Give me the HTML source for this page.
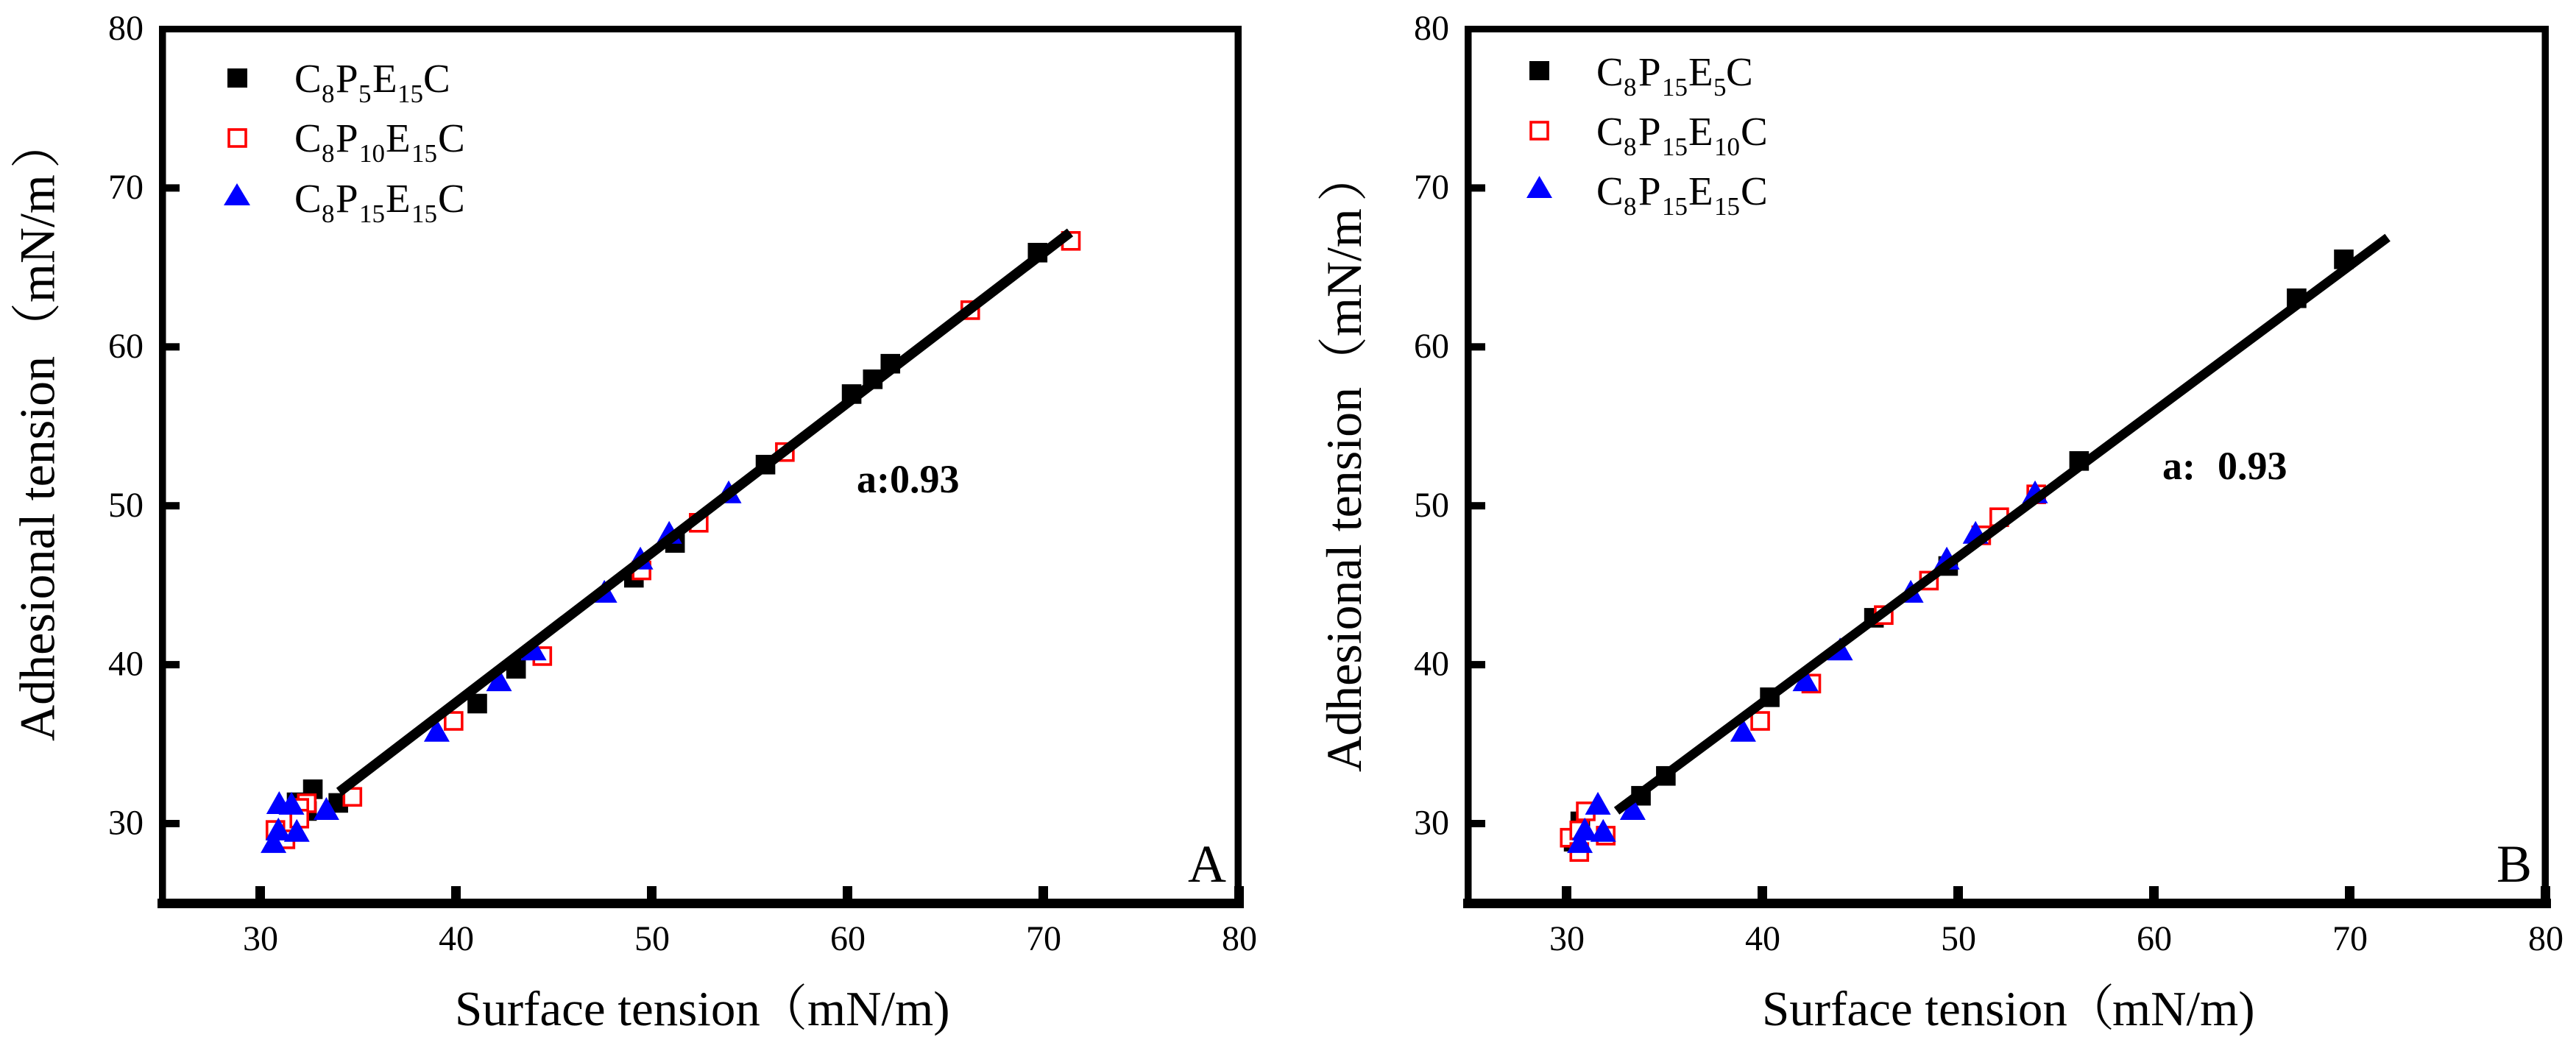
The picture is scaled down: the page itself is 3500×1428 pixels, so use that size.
<!DOCTYPE html>
<html lang="en">
<head>
<meta charset="utf-8">
<title>Adhesional tension vs surface tension</title>
<style>
html,body{margin:0;padding:0;background:#fff;width:3500px;height:1428px;overflow:hidden}
svg{display:block}
text{font-family:"Liberation Serif","Noto Serif CJK SC",serif;fill:#000}
.tick{font-size:48px}
.title{font-size:67px}
.ytitle{font-size:68px}
.leg{font-size:55px}
.sub{font-size:35px}
</style>
</head>
<body>
<svg id="chart" width="3500" height="1428" viewBox="0 0 3500 1428" xmlns="http://www.w3.org/2000/svg">
  <rect width="3500" height="1428" fill="#fff"/>
  <g id="panelA"></g>
  <g id="panelB"></g>

  <text class="title" x="618" y="1393">Surface tension</text>
  <text class="title" x="1030" y="1393">（</text>
  <text class="title" x="1097" y="1393">mN/m)</text>

  <text class="title" x="2394" y="1393">Surface tension</text>
  <text class="title" x="2806" y="1393">（</text>
  <text class="title" x="2870" y="1393">mN/m)</text>

  <text class="ytitle" transform="translate(73.5 1007) rotate(-90)">Adhesional tension</text>
  <text class="ytitle" transform="translate(73.5 411) rotate(-90)">mN/m</text>
  <text class="ytitle" transform="translate(73.5 479) rotate(-90)">（</text>
  <text class="ytitle" transform="translate(73.5 229) rotate(-90)">）</text>

  <text class="ytitle" transform="translate(1849 1049) rotate(-90)">Adhesional tension</text>
  <text class="ytitle" transform="translate(1849 457) rotate(-90)">mN/m</text>
  <text class="ytitle" transform="translate(1849 525) rotate(-90)">（</text>
  <text class="ytitle" transform="translate(1849 274) rotate(-90)">）</text>

  <text x="1164" y="669" font-size="54" font-weight="bold">a:0.93</text>
  <text x="2938" y="651" font-size="54" font-weight="bold">a:<tspan x="3013">0.93</tspan></text>
  <text x="1614" y="1198" font-size="72">A</text>
  <text x="3392" y="1198" font-size="72">B</text>

  <g>
    <rect x="309" y="93" width="27" height="26" fill="#000"/>
    <text class="leg" x="400" y="125">C<tspan class="sub" x="437" y="139">8</tspan><tspan x="456" y="125">P</tspan><tspan class="sub" x="487" y="139">5</tspan><tspan x="506" y="125">E</tspan><tspan class="sub" x="540" y="139">15</tspan><tspan x="575" y="125">C</tspan></text>
    <rect x="311" y="176" width="23" height="23" fill="#fff" stroke="#f00" stroke-width="3.6"/>
    <text class="leg" x="400" y="206">C<tspan class="sub" x="437" y="220">8</tspan><tspan x="456" y="206">P</tspan><tspan class="sub" x="488" y="220">10</tspan><tspan x="524" y="206">E</tspan><tspan class="sub" x="559" y="220">15</tspan><tspan x="595" y="206">C</tspan></text>
    <polygon points="322,249 340,279 304,279" fill="#00f"/>
    <text class="leg" x="400" y="288">C<tspan class="sub" x="437" y="302">8</tspan><tspan x="456" y="288">P</tspan><tspan class="sub" x="488" y="302">15</tspan><tspan x="524" y="288">E</tspan><tspan class="sub" x="559" y="302">15</tspan><tspan x="595" y="288">C</tspan></text>
  </g>

  <g>
    <rect x="2078" y="83" width="27" height="26" fill="#000"/>
    <text class="leg" x="2169" y="116">C<tspan class="sub" x="2206" y="130">8</tspan><tspan x="2226" y="116">P</tspan><tspan class="sub" x="2258" y="130">15</tspan><tspan x="2294" y="116">E</tspan><tspan class="sub" x="2328" y="130">5</tspan><tspan x="2345" y="116">C</tspan></text>
    <rect x="2080" y="166" width="23" height="23" fill="#fff" stroke="#f00" stroke-width="3.6"/>
    <text class="leg" x="2169" y="197">C<tspan class="sub" x="2206" y="211">8</tspan><tspan x="2226" y="197">P</tspan><tspan class="sub" x="2258" y="211">15</tspan><tspan x="2294" y="197">E</tspan><tspan class="sub" x="2329" y="211">10</tspan><tspan x="2365" y="197">C</tspan></text>
    <polygon points="2091.5,239 2109,269 2074,269" fill="#00f"/>
    <text class="leg" x="2169" y="278">C<tspan class="sub" x="2206" y="292">8</tspan><tspan x="2226" y="278">P</tspan><tspan class="sub" x="2258" y="292">15</tspan><tspan x="2294" y="278">E</tspan><tspan class="sub" x="2329" y="292">15</tspan><tspan x="2365" y="278">C</tspan></text>
  </g>
</svg>
<script>
var xTicks = [30, 40, 50, 60, 70, 80];
var yTicks = [30, 40, 50, 60, 70, 80];

var aBlackX = [32.39, 31.86, 32.69, 33.99, 41.09, 43.07, 49.09, 51.19, 55.81, 60.21, 61.29, 62.19, 69.71];
var aBlackY = [30.79, 31.34, 32.16, 31.30, 37.55, 39.74, 45.47, 47.66, 52.59, 57.03, 57.96, 58.94, 65.93];
var aRedX = [32.38, 32.00, 32.00, 30.78, 31.29, 34.71, 39.88, 44.41, 49.48, 52.40, 56.80, 66.27, 71.41];
var aRedY = [31.28, 30.99, 30.31, 29.60, 29.01, 31.68, 36.46, 40.54, 45.93, 48.93, 53.38, 62.31, 66.67];
var aBlueX = [30.97, 31.60, 33.38, 30.93, 31.87, 30.68, 39.02, 42.20, 43.97, 47.58, 49.42, 50.89, 53.93];
var aBlueY = [31.32, 31.28, 30.95, 29.66, 29.57, 28.87, 35.87, 39.05, 40.99, 44.62, 46.71, 48.33, 50.88];
var aLineX = [34.04, 71.37];
var aLineY = [31.99, 67.20];

var bBlackX = [30.70, 30.36, 33.80, 35.07, 40.38, 45.70, 49.49, 56.18, 67.29, 69.70];
var bBlackY = [30.14, 28.86, 31.75, 33.00, 37.95, 42.95, 46.21, 52.82, 63.06, 65.51];
var bRedX = [30.98, 30.16, 30.65, 32.00, 30.65, 39.89, 42.50, 46.20, 48.51, 51.18, 52.10, 53.99];
var bRedY = [30.77, 29.11, 29.57, 29.24, 28.21, 36.46, 38.81, 43.12, 45.29, 48.14, 49.28, 50.72];
var bBlueX = [31.60, 33.38, 30.93, 31.87, 30.68, 39.02, 42.20, 43.97, 47.58, 49.42, 50.89, 53.93];
var bBlueY = [31.28, 30.95, 29.66, 29.57, 28.87, 35.87, 39.05, 40.99, 44.62, 46.71, 48.33, 50.88];
var bLineX = [32.56, 71.94];
var bLineY = [30.80, 66.88];

var NS = 'http://www.w3.org/2000/svg';

function make(parent, tag, attrs) {
  var el = document.createElementNS(NS, tag);
  for (var k in attrs) {
    el.setAttribute(k, attrs[k]);
  }
  parent.appendChild(el);
  return el;
}

function drawPanel(id, suffix, o, blackX, blackY, redX, redY, blueX, blueY, lineX, lineY) {
  var g = document.getElementById(id);
  function X(v) { return o.x30 + (v - 30) * 26.6; }
  function Y(v) { return 1119 - (v - 30) * 21.59; }

  var r;
  r = make(g, 'rect', {x: o.left, y: 35, width: 9.5, height: 1190, fill: '#000'});
  
  
  r = make(g, 'rect', {x: o.left, y: 35, width: o.right - o.left, height: 9, fill: '#000'});
  
  
  r = make(g, 'rect', {x: o.right - 9.5, y: 35, width: 9.5, height: 1190, fill: '#000'});
  
  
  r = make(g, 'rect', {x: o.left - 2, y: 1221, width: o.right - o.left + 5, height: 13, fill: '#000'});
  
  

  xTicks.forEach(function (v) {
    var t = make(g, 'rect', {x: X(v) - 6.5, y: 1204, width: 13, height: 18, fill: '#000'});
    
    
    var l = make(g, 'text', {x: X(v) + 0.5, y: 1291, 'text-anchor': 'middle', 'class': 'tick'});
    
    
    l.textContent = v;
  });

  yTicks.forEach(function (v) {
    if (v < 80) {
      var t = make(g, 'rect', {x: o.left + 8, y: Y(v) - 5, width: 20, height: 10, fill: '#000'});
      
      
    }
    var l = make(g, 'text', {x: o.labelX, y: Y(v) + 14.6, 'text-anchor': 'end', 'class': 'tick'});
    
    
    l.textContent = v;
  });

  blackX.forEach(function (v, i) {
    var m = make(g, 'rect', {x: X(v) - 13.3, y: Y(blackY[i]) - 13.3, width: 26.6, height: 26.6, fill: '#000'});
    
    
  });
  redX.forEach(function (v, i) {
    var m = make(g, 'rect', {x: X(v) - 11.5, y: Y(redY[i]) - 11.5, width: 23, height: 23, fill: '#fff', stroke: '#f00', 'stroke-width': 3.6});
    
    
  });
  blueX.forEach(function (v, i) {
    var px = X(v), py = Y(blueY[i]);
    var pts = px + ',' + (py - 15.5) + ' ' + (px + 17.5) + ',' + (py + 15.5) + ' ' + (px - 17.5) + ',' + (py + 15.5);
    var m = make(g, 'polygon', {points: pts, fill: '#00f'});
    
    
  });

  var line = make(g, 'line', {x1: X(lineX[0]), y1: Y(lineY[0]), x2: X(lineX[1]), y2: Y(lineY[1]), stroke: '#000', 'stroke-width': o.lineWidth});
  
  
}

drawPanel('panelA', 'a', {x30: 353.5, left: 216, right: 1687, labelX: 195, lineWidth: 13.5},
  aBlackX, aBlackY, aRedX, aRedY, aBlueX, aBlueY, aLineX, aLineY);
drawPanel('panelB', 'b', {x30: 2128.5, left: 1990, right: 3463, labelX: 1969, lineWidth: 12.5},
  bBlackX, bBlackY, bRedX, bRedY, bBlueX, bBlueY, bLineX, bLineY);
</script>
</body>
</html>
